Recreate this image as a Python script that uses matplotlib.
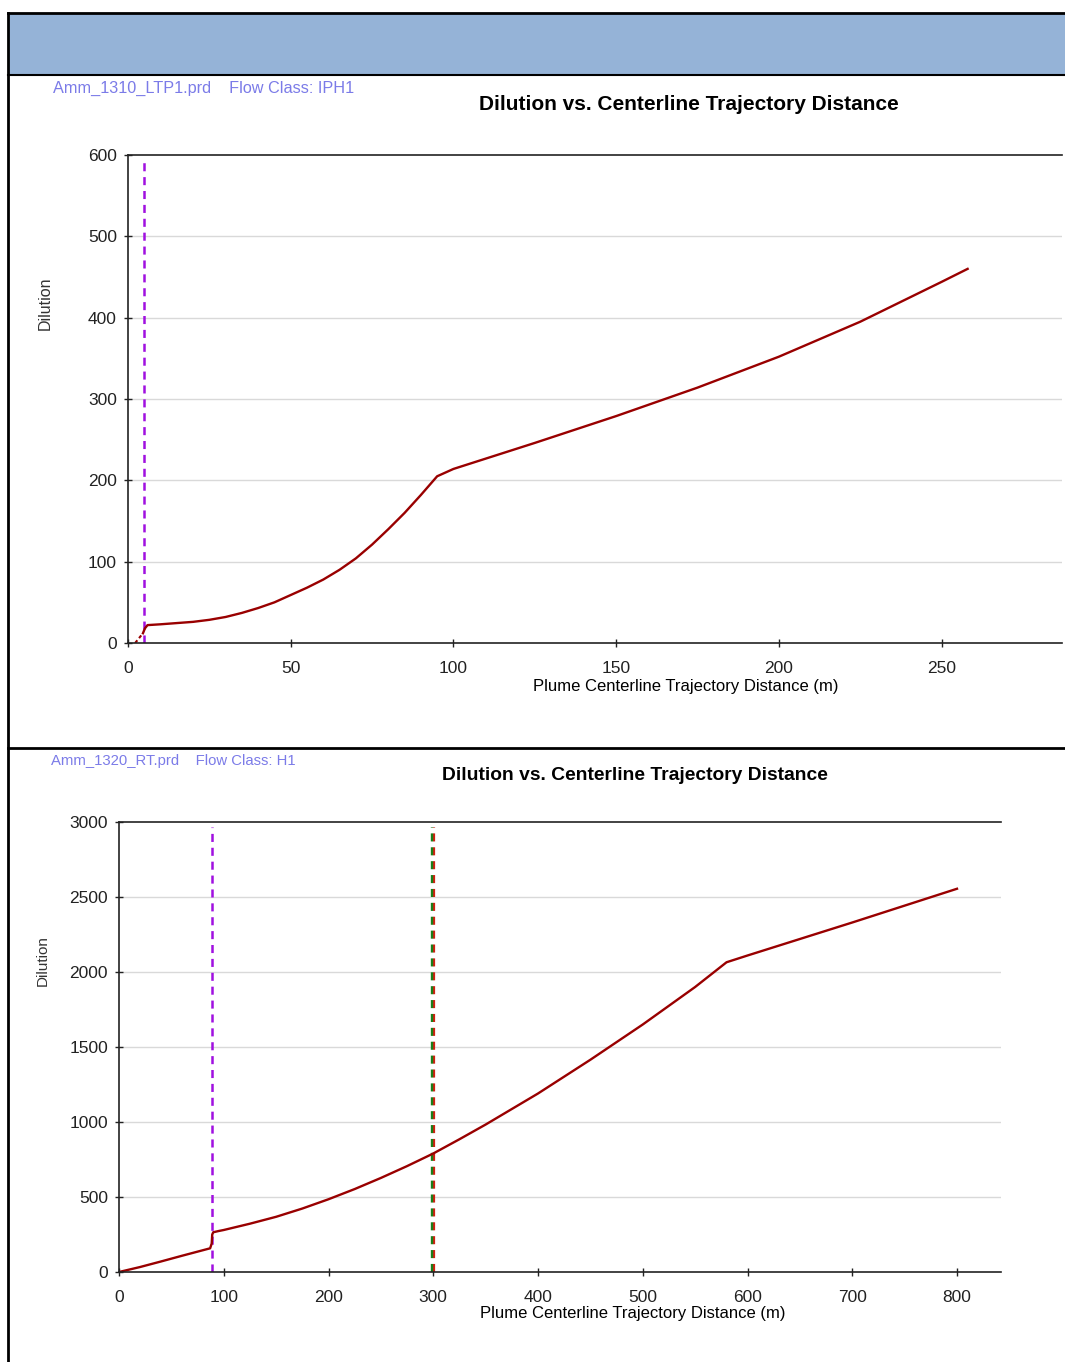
import matplotlib
matplotlib.use("Agg")
import matplotlib.pyplot as plt
import matplotlib.transforms as mtransforms
from matplotlib.lines import Line2D
from matplotlib.patches import Rectangle

plt.rcParams['font.family'] = ['Liberation Sans', 'DejaVu Sans']
plt.rcParams['lines.scale_dashes'] = False

# ---- data: top chart (Amm_1310_LTP1.prd) ----
top_lead_x = [2.2, 4.6]
top_lead_y = [0, 12]
top_x = [4.6, 5.2, 6.0, 10, 15, 20, 25, 30, 35, 40, 45, 50, 55, 60, 65, 70,
         75, 80, 85, 90, 95, 100, 125, 150, 175, 200, 225, 250, 258]
top_y = [12, 18, 22, 23, 24.5, 26, 28.5, 32, 37, 43, 50, 59, 68, 78, 90, 104,
         121, 140, 160, 182, 205, 214, 246, 279, 314, 352, 395, 444, 460]
top_purple = 4.9
top_xticks = [0, 50, 100, 150, 200, 250]
top_yticks = [0, 100, 200, 300, 400, 500, 600]

# ---- data: bottom chart (Amm_1320_RT.prd) ----
bot_x = [0, 20, 40, 60, 80, 87, 88.5, 89, 90, 95, 100, 125, 150, 175, 200,
         225, 250, 275, 300, 325, 350, 400, 450, 500, 550, 580, 600, 700, 800]
bot_y = [0, 33, 70, 108, 145, 158, 190, 250, 265, 273, 280, 322, 368, 423, 485,
         553, 627, 706, 790, 885, 983, 1190, 1415, 1650, 1900, 2065, 2110, 2330, 2555]
bot_purple = 88.8
bot_green = 300
bot_xticks = [0, 100, 200, 300, 400, 500, 600, 700, 800]
bot_yticks = [0, 500, 1000, 1500, 2000, 2500, 3000]

curve_col = '#990000'
purple = '#A010E0'
green = '#1A7F1A'
label_col = '#7B7BE8'
title = 'Dilution vs. Centerline Trajectory Distance'
xlabel = 'Plume Centerline Trajectory Distance (m)'
dash = (5.8, 4.2)

fig = plt.figure(figsize=(10.65, 13.62), dpi=100)
W, H = 1065.0, 1362.0

# header band and frame lines
fig.patches.append(Rectangle((8 / W, 1 - 75 / H), 1, 62 / H, transform=fig.transFigure,
                             facecolor='#95B3D7', edgecolor='none'))
for xs, ys, lw in [([8, 1065], [13, 13], 2), ([8, 1065], [75, 75], 1.5),
                   ([8, 1065], [748, 748], 2), ([8, 8], [13, 1362], 2)]:
    fig.lines.append(Line2D([x / W for x in xs], [1 - y / H for y in ys],
                            transform=fig.transFigure, color='black', lw=lw))


def style(ax, xlim, ylim, xticks, yticks):
    ax.set_xlim(*xlim)
    ax.set_ylim(*ylim)
    ax.set_xticks(xticks)
    ax.set_yticks(yticks)
    ax.spines['right'].set_visible(False)
    for s in ['left', 'bottom', 'top']:
        ax.spines[s].set_color('#222222')
        ax.spines[s].set_linewidth(1.2)
    ax.tick_params(direction='inout', length=6, width=1, colors='#222222',
                   labelsize=12.5)
    ax.tick_params(axis='y', pad=5)
    ax.tick_params(axis='x', pad=10)
    for t in yticks[1:-1]:
        ax.axhline(t, color='#D9D9D9', lw=1, zorder=0)


# top chart
ax1 = fig.add_axes([128 / W, 1 - 643 / H, (1062 - 128) / W, (643 - 155) / H])
style(ax1, (0, 287), (0, 600), top_xticks, top_yticks)
ax1.axvline(top_purple, ymax=0.99, color=purple, lw=1.8, dashes=dash)
ax1.plot(top_lead_x, top_lead_y, color=curve_col, lw=1.5, dashes=(2.5, 2))
ax1.plot(top_x, top_y, color=curve_col, lw=1.7)
ax1.set_xlabel(xlabel, fontsize=12)
ax1.xaxis.set_label_coords(0.597, -0.074)
ax1.set_ylabel('Dilution', fontsize=11.5, color='#333333')
ax1.yaxis.set_label_coords(-0.081, 0.697)
fig.text(53 / W, 1 - 88 / H, 'Amm_1310_LTP1.prd    Flow Class: IPH1',
         color=label_col, fontsize=11.7, va='center')
fig.text(689 / W, 1 - 104 / H, title, fontsize=15, fontweight='bold',
         ha='center', va='center')

# bottom chart
ax2 = fig.add_axes([119 / W, 1 - 1272 / H, (1001 - 119) / W, (1272 - 822) / H])
style(ax2, (0, 842), (0, 3000), bot_xticks, bot_yticks)
ax2.axvline(bot_purple, ymax=0.988, color=purple, lw=1.8, dashes=dash)
red_shift = mtransforms.offset_copy(ax2.get_xaxis_transform(), fig=fig, x=1.0, y=0, units='dots')
ax2.plot([bot_green, bot_green], [0, 0.988], transform=red_shift, color='#D02010',
         lw=1.6, dashes=dash)
green_shift = mtransforms.offset_copy(ax2.get_xaxis_transform(), fig=fig, x=-0.8, y=0, units='dots')
ax2.plot([bot_green, bot_green], [0, 0.988], transform=green_shift, color=green,
         lw=1.7, dashes=dash)
ax2.plot(bot_x, bot_y, color=curve_col, lw=1.7)
ax2.set_xlabel(xlabel, fontsize=12)
ax2.xaxis.set_label_coords(0.582, -0.076)
ax2.set_ylabel('Dilution', fontsize=11, color='#333333')
ax2.yaxis.set_label_coords(-0.079, 0.693)
fig.text(51 / W, 1 - 761 / H, 'Amm_1320_RT.prd    Flow Class: H1',
         color=label_col, fontsize=10.7, va='center')
fig.text(635 / W, 1 - 775 / H, title, fontsize=13.9, fontweight='bold',
         ha='center', va='center')

fig.savefig('out.png', dpi=100)
